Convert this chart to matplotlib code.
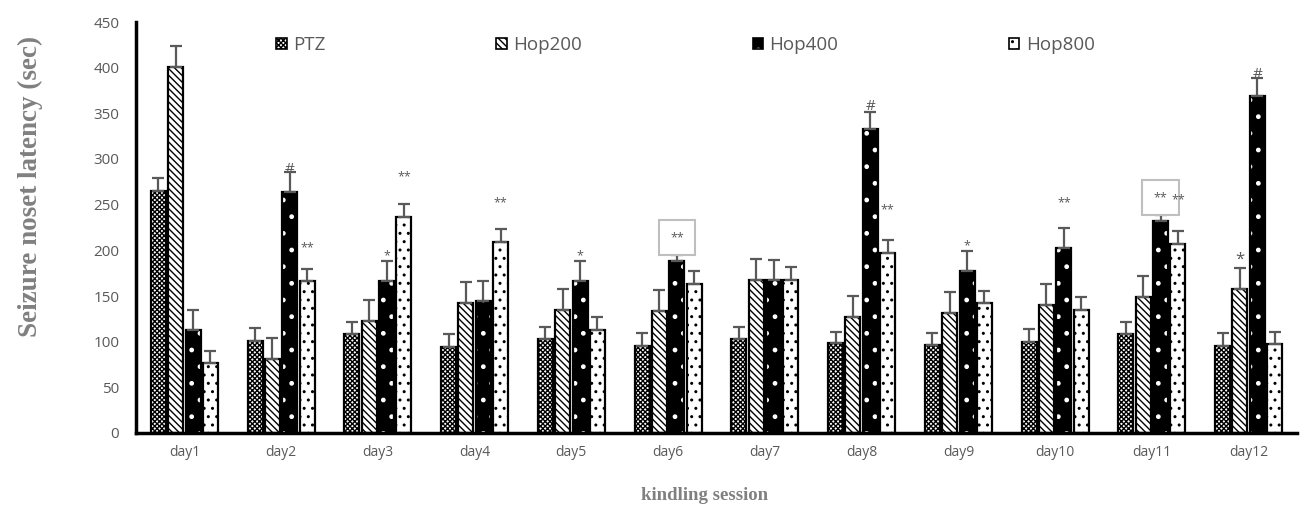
import matplotlib.pyplot as plt
from matplotlib.patches import Patch
from matplotlib.legend_handler import HandlerTuple
import numpy as np

# valores
days = ['day1', 'day2', 'day3', 'day4', 'day5', 'day6',
        'day7', 'day8', 'day9', 'day10', 'day11', 'day12']
groups = ['PTZ', 'Hop200', 'Hop400', 'Hop800']

ptz = [265, 101, 108, 94, 103, 95, 103, 98, 96, 100, 108, 95]
hop200 = [401, 81, 123, 142, 135, 134, 168, 127, 131, 140, 149, 158]
hop400 = [113, 264, 166, 144, 166, 188, 167, 333, 177, 203, 232, 369]
hop800 = [77, 166, 237, 209, 113, 163, 168, 197, 142, 135, 207, 97]

ptz_err = [14, 14, 13, 14, 13, 14, 13, 13, 14, 14, 13, 14]
hop200_err = [23, 23, 23, 23, 23, 23, 23, 23, 23, 23, 23, 23]
hop400_err = [22, 22, 22, 22, 22, 7, 22, 18, 22, 22, 7, 20]
hop800_err = [13, 14, 14, 14, 14, 14, 14, 14, 14, 14, 14, 14]

# anotacoes: (dia, grupo, texto, valor y, tamanho, caixa)
marks = [
    (1, 2, '#', 289, 11, False),
    (7, 2, '#', 357, 11, False),
    (11, 2, '#', 392, 11, False),
    (1, 3, '**', 203, 9, False),
    (2, 2, '*', 194, 9, False),
    (2, 3, '**', 281, 9, False),
    (3, 3, '**', 252, 9, False),
    (4, 2, '*', 194, 9, False),
    (5, 2, '**', 214, 9, True),
    (7, 3, '**', 244, 9, False),
    (8, 2, '*', 205, 9, False),
    (9, 2, '**', 252, 9, False),
    (10, 2, '**', 258, 9, True),
    (10, 3, '**', 255, 9, False),
    (11, 1, '*', 190, 12, False),
]

vals = [ptz, hop200, hop400, hop800]
errs = [ptz_err, hop200_err, hop400_err, hop800_err]
faces = ['white', 'white', 'black', 'white']
hcols = ['black', 'black', 'white', 'black']
hatches = ['xxxxxxx', '\\\\\\\\\\', '.', '..']

plt.rcParams['hatch.linewidth'] = 1.0
gray = '#595959'

fig = plt.figure(figsize=(13.03, 5.13), dpi=100)
ax = fig.add_axes([136/1303, 80/513, (1297-136)/1303, (433-22)/513])

x = np.arange(len(days))
step = 0.18
w = 0.155
handles = []
for k in range(4):
    pos = x + (k - 1.5) * step
    ax.bar(pos, vals[k], w, color=faces[k], edgecolor=hcols[k], hatch=hatches[k], lw=0, zorder=2)
    ax.bar(pos, vals[k], w, fill=False, edgecolor='black', lw=1.6, zorder=3)
    ax.errorbar(pos, vals[k], yerr=[np.zeros(len(days)), errs[k]], fmt='none',
                ecolor=gray, elinewidth=1.6, capsize=4.5, capthick=1.6, zorder=4)
    h1 = Patch(facecolor=faces[k], edgecolor=hcols[k], hatch=hatches[k], lw=0)
    h2 = Patch(fill=False, edgecolor='black', lw=1.2)
    handles.append((h1, h2))

for d, g, txt, yv, fs, box in marks:
    xp = d + (g - 1.5) * step
    kw = {}
    if box:
        kw['bbox'] = dict(boxstyle='square,pad=0.9', fc='white', ec='#bfbfbf', lw=1.5)
    ax.text(xp, yv, txt, ha='center', va='center', fontsize=fs, color=gray,
            family='Open Sans', zorder=6, **kw)

ax.set_xlim(-0.5, 11.5)
ax.set_ylim(0, 450)
ax.set_yticks(np.arange(0, 451, 50))
ax.set_xticks(x)
ax.set_xticklabels(days)
ax.tick_params(axis='both', length=0, labelcolor=gray)
ax.tick_params(axis='y', pad=12, labelsize=11)
ax.tick_params(axis='x', pad=9, labelsize=10)
for lab in ax.get_xticklabels() + ax.get_yticklabels():
    lab.set_family('Open Sans')
for s in ['top', 'right']:
    ax.spines[s].set_visible(False)
for s in ['left', 'bottom']:
    ax.spines[s].set_linewidth(2.5)
    ax.spines[s].set_color('black')

leg = fig.legend(handles, groups, loc='upper left', bbox_to_anchor=(267/1303, 1 - 27/513),
                 ncol=4, frameon=False, handlelength=0.55, handleheight=0.55,
                 handletextpad=0.35, columnspacing=9.1, borderpad=0,
                 handler_map={tuple: HandlerTuple(ndivide=1, pad=0)},
                 prop={'family': 'Open Sans', 'size': 13.5})
for t in leg.get_texts():
    t.set_color(gray)

fig.text(30/1303, 1 - 186/513, 'Seizure noset latency (sec)', rotation=90,
         ha='center', va='center', fontsize=19.5, fontweight='bold',
         family='Liberation Serif', color='#808080')
fig.text(705/1303, 1 - 495/513, 'kindling session', ha='center', va='center',
         fontsize=13.5, fontweight='bold', family='Liberation Serif', color='#808080')

plt.savefig('out.png', dpi=100)
